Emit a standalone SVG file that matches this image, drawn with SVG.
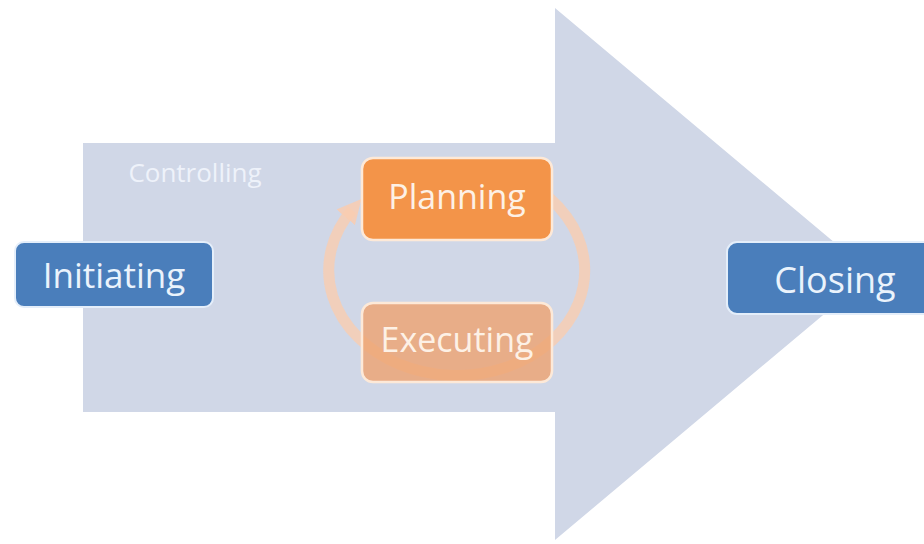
<svg xmlns="http://www.w3.org/2000/svg" width="924" height="544" viewBox="0 0 924 544">
<style>
  .lbl { font-family: "Open Sans", "Liberation Sans", sans-serif; fill: #eaf3fc; text-anchor: middle; }
  .blue { fill: #4a7ebb; stroke: #e4eefa; stroke-width: 2; }
  .ring { fill: none; stroke: #f9cdb0; stroke-width: 11; stroke-opacity: 0.8; }
</style>
<defs>
  <marker id="head" viewBox="0 0 10 10" refX="4" refY="5" markerWidth="2.2" markerHeight="2.2" orient="auto" markerUnits="strokeWidth">
    <path d="M0,0 L10,5 L0,10 z" fill="#f9cdb0" fill-opacity="0.85"/>
  </marker>
</defs>
<rect width="924" height="544" fill="#ffffff"/>
<g id="big-arrow">
  <path d="M83,143 H555 V8 L872,274 L555,540 V412 H83 Z" fill="#d0d7e7"/>
</g>
<g id="controlling">
  <text class="lbl" x="195" y="182" font-size="26" style="fill:#eef2fa">Controlling</text>
</g>
<g id="connectors">
  <path class="ring" d="M479,167 A128,105 0 1 1 352,210" marker-end="url(#head)"/>
</g>
<g id="planning">
  <rect x="362" y="158" width="190" height="82" rx="11" fill="#f39449" stroke="#fde9d8" stroke-width="2.5"/>
  <text class="lbl" x="457" y="209" font-size="34" style="fill:#fdf1e6">Planning</text>
</g>
<g id="executing">
  <rect x="362" y="303" width="190" height="79" rx="11" fill="#eea370" fill-opacity="0.8" stroke="#fde9d8" stroke-width="2.5"/>
  <text class="lbl" x="457" y="352" font-size="34" style="fill:#fdf1e6">Executing</text>
</g>
<g id="initiating">
  <rect class="blue" x="15" y="242" width="198" height="65" rx="9"/>
  <text class="lbl" x="114" y="288" font-size="35">Initiating</text>
</g>
<g id="closing">
  <rect class="blue" x="727" y="242" width="215" height="72" rx="10"/>
  <text class="lbl" x="835" y="293" font-size="36">Closing</text>
</g>
</svg>
